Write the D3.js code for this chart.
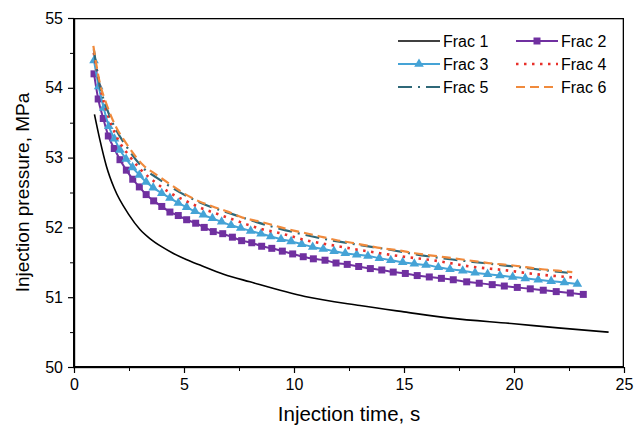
<!DOCTYPE html>
<html>
<head>
<meta charset="utf-8">
<script src="https://cdn.jsdelivr.net/npm/d3@7"></script>
<style>
  body { margin: 0; background: #fff; }
  text { font-family: "Liberation Sans", Arial, sans-serif; fill: #000; }
</style>
</head>
<body>
<div id="chart"></div>
<script>
// series names
const names = ['Frac 1', 'Frac 2', 'Frac 3', 'Frac 4', 'Frac 5', 'Frac 6'];

// Frac 1 (solid, no markers)
const t1 = [0.93, 1.18, 1.48, 1.83, 2.5, 3.0, 3.45, 4.0, 4.5, 5.1, 5.73, 6.8, 8.0, 10.5, 13.0, 15.0, 17.1, 20.0, 22.0, 24.3];
const p1 = [53.62, 53.25, 52.87, 52.56, 52.18, 51.97, 51.84, 51.72, 51.63, 51.54, 51.46, 51.33, 51.22, 51.01, 50.88, 50.79, 50.70, 50.62, 50.56, 50.50];

// Frac 2 (square markers)
const t2 = [0.91, 1.10, 1.33, 1.56, 1.83, 2.09, 2.38, 2.67, 2.97, 3.28,
            3.62, 3.99, 4.36, 4.74, 5.12, 5.53, 5.92, 6.33, 6.76, 7.20,
            7.62, 8.08, 8.53, 8.99, 9.47, 9.94, 10.42, 10.88, 11.41, 11.91,
            12.42, 12.94, 13.47, 13.99, 14.51, 15.06, 15.60, 16.15, 16.70, 17.24,
            17.85, 18.42, 19.01, 19.56, 20.15, 20.74, 21.33, 21.92, 22.56, 23.15];
const p2 = [54.20, 53.84, 53.56, 53.31, 53.13, 52.97, 52.82, 52.69, 52.58, 52.47,
            52.38, 52.30, 52.22, 52.17, 52.11, 52.06, 52.00, 51.94, 51.91, 51.86,
            51.81, 51.78, 51.73, 51.70, 51.66, 51.62, 51.58, 51.55, 51.53, 51.49,
            51.47, 51.44, 51.41, 51.39, 51.36, 51.34, 51.31, 51.29, 51.27, 51.25,
            51.22, 51.20, 51.18, 51.16, 51.14, 51.12, 51.10, 51.08, 51.06, 51.04];

// Frac 3 (triangle markers)
const t3 = [0.91, 1.12, 1.35, 1.58, 1.84, 2.09, 2.37, 2.66, 2.97, 3.28,
            3.60, 3.99, 4.36, 4.74, 5.12, 5.50, 5.88, 6.29, 6.71, 7.14,
            7.58, 8.03, 8.50, 8.94, 9.41, 9.87, 10.35, 10.85, 11.33, 11.82,
            12.33, 12.85, 13.36, 13.88, 14.40, 14.94, 15.47, 16.00, 16.56, 17.09,
            17.67, 18.23, 18.80, 19.36, 19.94, 20.51, 21.10, 21.69, 22.29, 22.88];
const p3 = [54.39, 54.02, 53.71, 53.45, 53.27, 53.11, 52.98, 52.86, 52.75, 52.65,
            52.57, 52.49, 52.42, 52.35, 52.29, 52.23, 52.18, 52.13, 52.08, 52.03,
            51.99, 51.95, 51.91, 51.87, 51.83, 51.80, 51.76, 51.72, 51.69, 51.66,
            51.63, 51.61, 51.59, 51.56, 51.53, 51.50, 51.48, 51.46, 51.43, 51.40,
            51.38, 51.35, 51.33, 51.31, 51.29, 51.27, 51.25, 51.23, 51.21, 51.19];

// Frac 4 (dotted)
const t4 = [0.90, 1.15, 1.40, 1.70, 2.00, 2.50, 3.00, 3.76, 4.40, 5.08, 5.76, 6.45, 7.17,
            7.88, 8.60, 9.33, 10.5, 12.0, 13.5, 15.0, 16.5, 18.0, 19.5, 21.0, 22.8];
const p4 = [54.50, 54.07, 53.75, 53.47, 53.26, 53.03, 52.84, 52.63, 52.49, 52.38, 52.28, 52.20, 52.12,
            52.04, 51.97, 51.92, 51.82, 51.73, 51.65, 51.58, 51.52, 51.44, 51.39, 51.33, 51.28];

// Frac 5 (dash-dot)
const t5 = [0.90, 1.18, 1.44, 1.94, 2.32, 3.15, 3.77, 4.50, 5.70, 7.20, 8.90, 10.0,
            11.44, 12.95, 14.36, 15.8, 17.2, 18.6, 20.0, 21.3, 22.45];
const p5 = [54.55, 54.02, 53.75, 53.38, 53.19, 52.85, 52.71, 52.56, 52.36, 52.19, 52.02, 51.93,
            51.83, 51.75, 51.68, 51.60, 51.54, 51.49, 51.44, 51.39, 51.35];

// Frac 6 (dashed)
const t6 = [0.88, 1.18, 1.44, 1.94, 2.32, 3.15, 3.77, 4.36, 4.98, 5.64, 6.30, 6.95, 7.66, 8.36,
            9.07, 9.77, 10.5, 11.18, 11.9, 12.62, 13.32, 14.05, 14.77, 15.5, 16.18, 16.94,
            17.66, 18.36, 19.1, 19.82, 20.55, 21.27, 22.0, 22.65];
const p6 = [54.60, 54.06, 53.80, 53.42, 53.23, 52.89, 52.75, 52.62, 52.49, 52.38, 52.30, 52.23, 52.14, 52.09,
            52.03, 51.97, 51.92, 51.87, 51.82, 51.78, 51.74, 51.70, 51.67, 51.63, 51.60, 51.57,
            51.54, 51.51, 51.48, 51.46, 51.43, 51.40, 51.38, 51.36];

const xTicks = [0, 5, 10, 15, 20, 25];
const yTicks = [50, 51, 52, 53, 54, 55];

const width = 634, height = 427;
const margin = { top: 18, right: 10, bottom: 60, left: 74 };
const plotW = width - margin.left - margin.right;
const plotH = height - margin.top - margin.bottom;

const svg = d3.select('#chart').append('svg')
    .attr('width', width)
    .attr('height', height);

const x = d3.scaleLinear().domain([0, 25]).range([margin.left, margin.left + plotW]);
const y = d3.scaleLinear().domain([50, 55]).range([margin.top + plotH, margin.top]);

/* frame drawn as filled bars: top and right thin, left and bottom heavy */
const frame = svg.append('g').attr('fill', '#000');
frame.append('rect')
    .attr('x', x(0)).attr('y', y(55))
    .attr('width', x(25) - x(0)).attr('height', 1.3);
frame.append('rect')
    .attr('x', x(25) - 1.3).attr('y', y(55))
    .attr('width', 1.3).attr('height', y(50) - y(55));
frame.append('rect')
    .attr('x', x(0) - 1).attr('y', y(55))
    .attr('width', 2.2).attr('height', y(50) - y(55) + 1);
frame.append('rect')
    .attr('x', x(0) - 1).attr('y', y(50) - 1)
    .attr('width', x(25) - x(0) + 1).attr('height', 2.2);

/* minor ticks */
svg.append('g')
    .attr('transform', `translate(0,${y(50)})`)
    .call(d3.axisBottom(x).tickValues(d3.range(2.5, 25, 5)).tickSize(4).tickFormat(''))
    .call(g => g.select('.domain').remove());
svg.append('g')
    .attr('transform', `translate(${x(0)},0)`)
    .call(d3.axisLeft(y).tickValues(d3.range(50.5, 55, 1)).tickSize(4).tickFormat(''))
    .call(g => g.select('.domain').remove());

/* x axis */
const xAxis = svg.append('g')
    .attr('transform', `translate(0,${y(50)})`)
    .call(d3.axisBottom(x).tickValues(xTicks).tickSize(6).tickSizeOuter(0).tickPadding(6).tickFormat(d3.format('d')));
xAxis.select('.domain').remove();
xAxis.selectAll('line').attr('stroke-width', 1.2);
xAxis.selectAll('text').attr('font-size', 16).style('font-family', '"Liberation Sans", Arial, sans-serif');

/* y axis */
const yAxis = svg.append('g')
    .attr('transform', `translate(${x(0)},0)`)
    .call(d3.axisLeft(y).tickValues(yTicks).tickSize(6).tickSizeOuter(0).tickPadding(5).tickFormat(d3.format('d')));
yAxis.select('.domain').remove();
yAxis.selectAll('line').attr('stroke-width', 1.2);
yAxis.selectAll('text').attr('font-size', 16).style('font-family', '"Liberation Sans", Arial, sans-serif');

/* axis titles */
svg.append('text')
    .text('Injection time, s')
    .attr('x', (x(0) + x(25)) / 2)
    .attr('y', 421)
    .attr('text-anchor', 'middle')
    .attr('font-size', 20.5);

svg.append('text')
    .text('Injection pressure, MPa')
    .attr('transform', `translate(29,${(y(50) + y(55)) / 2}) rotate(-90)`)
    .attr('text-anchor', 'middle')
    .attr('font-size', 19);

/* series */
const line = d3.line()
    .x(d => x(d[0]))
    .y(d => y(d[1]))
    .curve(d3.curveMonotoneX);

const zip = (ts, ps) => ts.map((t, i) => [t, ps[i]]);

const series = [
    { data: zip(t1, p1), color: '#000000', width: 1.6, dash: null, marker: null },
    { data: zip(t2, p2), color: '#7030A0', width: 2, dash: null, marker: 'square' },
    { data: zip(t3, p3), color: '#45A3D6', width: 2, dash: null, marker: 'triangle' },
    { data: zip(t4, p4), color: '#E8302A', width: 2.6, dash: '2.5,5.5', marker: null },
    { data: zip(t5, p5), color: '#2F6878', width: 2.2, dash: '14,6,2,6', marker: null },
    { data: zip(t6, p6), color: '#F08A3C', width: 2.2, dash: '9,5', marker: null }
];

const sq = d3.symbol().type(d3.symbolSquare).size(49);
const tri = d3.symbol().type(d3.symbolTriangle).size(40);

series.forEach(s => {
    svg.append('path')
        .datum(s.data)
        .attr('fill', 'none')
        .attr('stroke', s.color)
        .attr('stroke-width', s.width)
        .attr('stroke-dasharray', s.dash)
        .attr('d', line);

    if (s.marker) {
        svg.append('g')
            .selectAll('path')
            .data(s.data)
            .join('path')
            .attr('transform', d => `translate(${x(d[0])},${y(d[1])})`)
            .attr('d', s.marker === 'square' ? sq : tri)
            .attr('fill', s.color);
    }
});

/* legend */
const legendPos = [
    [398, 41], [516, 41],
    [398, 64], [516, 64],
    [398, 87], [516, 87]
];

series.forEach((s, i) => {
    const [lx, ly] = legendPos[i];
    svg.append('line')
        .attr('x1', lx).attr('x2', lx + 42)
        .attr('y1', ly).attr('y2', ly)
        .attr('stroke', s.color)
        .attr('stroke-width', s.width)
        .attr('stroke-dasharray', s.dash);
    if (s.marker) {
        svg.append('path')
            .attr('transform', `translate(${lx + 21},${ly})`)
            .attr('d', s.marker === 'square' ? sq : tri)
            .attr('fill', s.color);
    }
    svg.append('text')
        .text(names[i])
        .attr('x', lx + 45)
        .attr('y', ly + 5.5)
        .attr('font-size', 16);
});
</script>
</body>
</html>
